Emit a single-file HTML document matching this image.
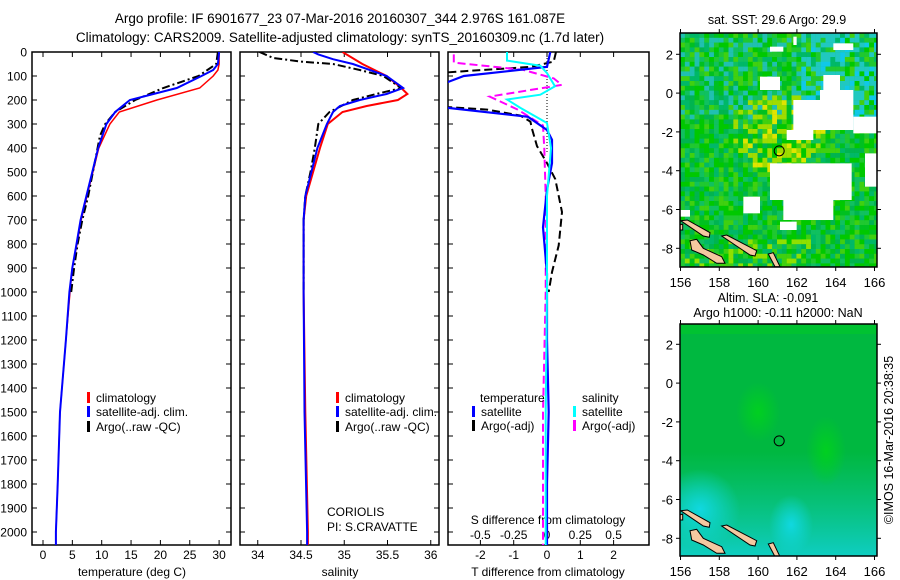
<!DOCTYPE html>
<html><head><meta charset="utf-8"><style>
body{margin:0;background:#fff;}
svg{display:block;font-family:"Liberation Sans",sans-serif;}
text{fill:#000;}
</style></head><body>
<svg id="fig" width="900" height="580" viewBox="0 0 900 580">
<defs>
<clipPath id="c1"><rect x="32" y="52" width="199" height="493"/></clipPath>
<clipPath id="c2"><rect x="240" y="52" width="199" height="493"/></clipPath>
<clipPath id="c3"><rect x="448" y="52" width="201" height="493"/></clipPath>
<clipPath id="cm1"><rect x="680" y="33" width="197" height="234"/></clipPath>
<clipPath id="cm2"><rect x="680" y="324" width="197" height="232"/></clipPath>
<radialGradient id="blob1" cx="0.5" cy="0.5" r="0.5"><stop offset="0" stop-color="#10d8e0"/><stop offset="1" stop-color="#10d8e0" stop-opacity="0"/></radialGradient>
<radialGradient id="blob2" cx="0.5" cy="0.5" r="0.5"><stop offset="0" stop-color="#00d020"/><stop offset="1" stop-color="#00d020" stop-opacity="0"/></radialGradient>
<linearGradient id="sw" x1="0" y1="0" x2="0" y2="1"><stop offset="0.55" stop-color="#10c8b0" stop-opacity="0"/><stop offset="1" stop-color="#10d0d0" stop-opacity="0.9"/></linearGradient>
</defs>
<text x="340" y="23" text-anchor="middle" font-size="13.5">Argo profile: IF 6901677_23 07-Mar-2016 20160307_344 2.976S 161.087E</text>
<text x="340" y="42" text-anchor="middle" font-size="13.5">Climatology: CARS2009. Satellite-adjusted climatology: synTS_20160309.nc (1.7d later)</text>
<g id="axes"></g>
<g id="maps"></g>
<text transform="translate(893,440) rotate(-90)" text-anchor="middle" font-size="12.5">©IMOS 16-Mar-2016 20:38:35</text>
</svg>
<script>
// ---- data (depth in m) ----
const tClimDepth=[0,50,75,100,150,200,250,300,400,500,600,700,800,900,1000,1200,1500,1800,2000,2060];
const tClimVal=[30,30,29.8,29,26.7,19.4,13,11.4,9.5,8.5,7.5,6.5,5.8,5.0,4.6,3.9,2.9,2.5,2.2,2.2];
const tSatDepth=[0,50,75,100,150,200,250,300,400,500,600,700,800,900,1000,1200,1500,1800,2000,2060];
const tSatVal=[30,29.8,29,27,22.8,14.8,12.3,10.8,9.4,8.4,7.4,6.4,5.7,5.0,4.5,3.9,2.9,2.5,2.2,2.2];
const tArgoDepth=[0,50,75,100,150,200,250,300,350,400,500,600,700,800,900,1000];
const tArgoVal=[29.8,29.5,28,26.5,20.5,15.7,12.3,10.6,9.7,9.3,8.5,7.7,6.7,5.9,5.3,4.8];
const sClimDepth=[0,50,100,150,175,200,225,250,300,400,500,600,700,1000,1500,2000,2060];
const sClimVal=[34.98,35.21,35.49,35.66,35.73,35.62,35.26,34.98,34.81,34.72,34.64,34.56,34.53,34.53,34.55,34.58,34.58];
const sSatDepth=[0,10,30,50,100,150,175,200,225,250,300,400,500,600,700,1000,1500,2000,2060];
const sSatVal=[34.64,34.7,34.87,35.1,35.49,35.68,35.49,35.18,34.95,34.87,34.8,34.69,34.62,34.55,34.53,34.53,34.54,34.57,34.57];
const sArgoDepth=[0,25,40,50,75,100,150,175,200,250,300,400,500,600,700,1000];
const sArgoVal=[34.02,34.18,34.5,34.87,35.18,35.45,35.66,35.37,35.1,34.83,34.7,34.66,34.61,34.55,34.53,34.53];
const dTSatDepth=[0,62,100,137,229,270,325,366,463,574,730,924,1200,1500,1800,2060];
const dTSatVal=[0.1,0,-2.5,-3.2,-3.2,-0.57,0,0.15,0.15,0,-0.12,0,0,0.05,0,0];
const dTArgoDepth=[0,40,62,80,90,150,225,240,265,290,320,392,463,530,667,806,917,1000];
const dTArgoVal=[0.27,0.2,-0.5,-2.5,-3.5,-3.5,-3.5,-1.8,-0.8,-0.5,-0.45,-0.3,0,0.25,0.45,0.35,0.15,0.05];
const dSSatDepth=[0,36,57,88,143,178,198,233,296,400,600,1000,1500,2060];
const dSSatVal=[-0.3,-0.3,-0.05,0,0.06,-0.05,-0.3,-0.2,0,0.03,0,0,-0.01,-0.01];
const dSArgoDepth=[10,30,44,74,110,137,186,240,306,403,600,1000,1500,2060];
const dSArgoVal=[-0.7,-0.7,-0.7,-0.18,0.05,0.11,-0.43,-0.22,-0.03,-0.02,-0.01,-0.01,-0.03,-0.03];
const depthTicks=[0,100,200,300,400,500,600,700,800,900,1000,1100,1200,1300,1400,1500,1600,1700,1800,1900,2000];
const tempTicks=[0,5,10,15,20,25,30];
const salTicks=[34,34.5,35,35.5,36];
const dTTicks=[-2,-1,0,1,2];
const dSTicks=[-0.5,-0.25,0,0.25,0.5];
const lonTicks=[156,158,160,162,164,166];
const latTicks=[2,0,-2,-4,-6,-8];

const NS='http://www.w3.org/2000/svg';
const yD=d=>52+d*0.24;
const xT=t=>43+t*5.87;
const xS=s=>301+(s-34.5)*86.5;
const xDT=t=>547+t*33.3;
const xDS=s=>547+s*133.2;
function mk(tag,attrs,parent){const e=document.createElementNS(NS,tag);for(const k in attrs)e.setAttribute(k,attrs[k]);parent.appendChild(e);return e;}
const ax=document.getElementById('axes');
function line(depths,vals,fx,color,w,dash,clip,name){
  const pts=depths.map((d,i)=>fx(vals[i]).toFixed(1)+','+yD(d).toFixed(1)).join(' ');
  const p=mk('polyline',{points:pts,fill:'none',stroke:color,'stroke-width':w,'clip-path':'url(#'+clip+')'},ax);
  if(dash)p.setAttribute('stroke-dasharray',dash);
  
  
}
function txt(x,y,s,anchor,size,name,parent){const t=mk('text',{x:x,y:y,'text-anchor':anchor||'start','font-size':size||12},parent||ax);t.textContent=s;return t;}
function frame(x,y,w,h,name){const r=mk('rect',{x:x,y:y,width:w,height:h,fill:'none',stroke:'#000','stroke-width':1.5},ax);}
[[32,'temperature-panel'],[240,'salinity-panel'],[448,'difference-panel']].forEach(([x,n],i)=>{
  const w=i==2?201:199;
  frame(x,52,w,493,n);
  depthTicks.forEach(d=>{mk('line',{x1:x,x2:x+5,y1:yD(d),y2:yD(d),stroke:'#000'},ax);mk('line',{x1:x+w-5,x2:x+w,y1:yD(d),y2:yD(d),stroke:'#000'},ax);});
});
depthTicks.forEach(d=>txt(27,yD(d)+4.5,String(d),'end',12,'depth-tick-label'));
tempTicks.forEach(t=>{mk('line',{x1:xT(t),x2:xT(t),y1:545,y2:540,stroke:'#000'},ax);mk('line',{x1:xT(t),x2:xT(t),y1:52,y2:57,stroke:'#000'},ax);txt(xT(t),559,String(t),'middle',12,'temperature-tick-label');});
salTicks.forEach(s=>{mk('line',{x1:xS(s),x2:xS(s),y1:545,y2:540,stroke:'#000'},ax);mk('line',{x1:xS(s),x2:xS(s),y1:52,y2:57,stroke:'#000'},ax);txt(xS(s),559,String(s),'middle',12,'salinity-tick-label');});
dTTicks.forEach(t=>{mk('line',{x1:xDT(t),x2:xDT(t),y1:545,y2:540,stroke:'#000'},ax);mk('line',{x1:xDT(t),x2:xDT(t),y1:52,y2:57,stroke:'#000'},ax);txt(xDT(t),559,String(t),'middle',12,'t-diff-tick-label');});
dSTicks.forEach(s=>txt(xDS(s),539,String(s),'middle',12,'s-diff-tick-label'));
txt(132,576,'temperature (deg C)','middle',12,'temperature-axis-title');
txt(340,576,'salinity','middle',12,'salinity-axis-title');
txt(548,576,'T difference from climatology','middle',12,'t-diff-axis-title');
txt(548,524,'S difference from climatology','middle',12,'s-diff-axis-title');
mk('line',{x1:547,x2:547,y1:52,y2:yD(420),stroke:'#000','stroke-dasharray':'1,2'},ax);
line(tClimDepth,tClimVal,xT,'#f00',1.5,null,'c1','temp-climatology-line');
line(tArgoDepth,tArgoVal,xT,'#000',2,'8,3,2,3','c1','temp-argo-line');
line(tSatDepth,tSatVal,xT,'#00f',2,null,'c1','temp-satellite-line');
line(sClimDepth,sClimVal,xS,'#f00',2,null,'c2','sal-climatology-line');
line(sArgoDepth,sArgoVal,xS,'#000',2,'8,3,2,3','c2','sal-argo-line');
line(sSatDepth,sSatVal,xS,'#00f',2,null,'c2','sal-satellite-line');
line(dTArgoDepth,dTArgoVal,xDT,'#000',2,'8,4','c3','t-diff-argo-line');
line(dSArgoDepth,dSArgoVal,xDS,'#f0f',2,'8,4','c3','s-diff-argo-line');
line(dTSatDepth,dTSatVal,xDT,'#00f',2.2,null,'c3','t-diff-satellite-line');
line(dSSatDepth,dSSatVal,xDS,'#0ff',2,null,'c3','s-diff-satellite-line');
function leg(x,y,color,label,name){mk('rect',{x:x,y:y-10,width:3,height:11,fill:color},ax);txt(x+9,y,label,'start',12,name);}
leg(87,402,'#f00','climatology','legend-climatology');
leg(87,416,'#00f','satellite-adj. clim.','legend-satellite-adj');
leg(87,431,'#000','Argo(..raw -QC)','legend-argo');
leg(336,402,'#f00','climatology','legend-sal-climatology');
leg(336,416,'#00f','satellite-adj. clim.','legend-sal-satellite-adj');
leg(336,431,'#000','Argo(..raw -QC)','legend-sal-argo');
txt(480,402,'temperature','start',12,'legend-temperature-heading');
leg(472,416,'#00f','satellite','legend-t-satellite');
leg(472,430,'#000','Argo(-adj)','legend-t-argo');
txt(582,402,'salinity','start',12,'legend-salinity-heading');
leg(573,416,'#0ff','satellite','legend-s-satellite');
leg(573,430,'#f0f','Argo(-adj)','legend-s-argo');
txt(327,516,'CORIOLIS','start',12,'data-center-label');
txt(327,531,'PI: S.CRAVATTE','start',12,'pi-label');

// ---- maps ----
const mg=document.getElementById('maps');
const lonX=l=>680.5+(l-156)*19.4;
const latY1=a=>54.3+(2-a)*19.4;
const latY2=a=>344.3+(2-a)*19.4;
const g1=mk('g',{'clip-path':'url(#cm1)'},mg);

const pal=['#00c800','#00b450','#00c020','#10c060','#40d010','#00b868','#20c830','#00c800'];
function h(i,j){let v=(i*73856093)^(j*19349663);v=(v^(v>>13))*1274126177;return ((v>>>0)%1000)/1000;}
mk('rect',{x:680,y:33,width:197,height:234,fill:'#00c000'},g1);
for(let i=0;i<41;i++)for(let j=0;j<49;j++){
  const x=680+i*4.85,y=33+j*4.8;const r=h(i,j);
  let c=pal[Math.floor(r*pal.length)];
  const cx=(i-20)/9,cy=(j-20)/8;
  if(j<20&&i>24&&r<0.5)c=(r<0.15?'#10c8e8':'#20c8c0');
  else if(j<18&&r<0.2)c='#20c0b0';
  if(cx*cx+cy*cy<1.1&&r>0.6)c=(r>0.88?'#e0e400':'#a0dc00');
  if(j>42&&i<28&&r>0.8)c='#90e000';
  mk('rect',{x:x,y:y,width:5,height:5,fill:c},g1);
}
const holes=[[400,300,580,390],[580,350,652,400],[480,270,580,300],[490,225,540,280],[300,230,360,270],[330,490,575,600],[370,600,520,660],[250,590,300,640],[360,665,410,690],[520,130,580,150],[330,140,370,155],[400,110,410,135],[60,630,90,650],[615,460,652,560],[380,390,460,420]];
holes.forEach(b=>mk('rect',{x:660+b[0]/3,y:b[1]/3,width:(b[2]-b[0])/3,height:(b[3]-b[1])/3,fill:'#fff'},g1));
function land(g,dy){
  const isl=[[[62,662],[82,660],[150,698],[148,712],[130,708]],[[185,708],[200,705],[290,752],[285,768],[270,765]],[[90,722],[110,718],[130,745],[185,770],[195,790],[170,790],[130,765],[95,750]],[[325,762],[340,758],[360,800],[345,800]],[[58,675],[68,672],[68,690],[58,690]]];
  isl.forEach(p=>mk('polygon',{points:p.map(q=>(660+q[0]/3).toFixed(1)+','+(dy+q[1]/3).toFixed(1)).join(' '),fill:'#f5c8a0',stroke:'#000','stroke-width':1},g));
}
land(g1,0);
mk('circle',{cx:lonX(161.087),cy:latY1(-2.976),r:5,fill:'none',stroke:'#000','stroke-width':1},mg);
const g2=mk('g',{'clip-path':'url(#cm2)'},mg);

mk('rect',{x:680,y:324,width:197,height:232,fill:'#00b840'},g2);
mk('rect',{x:680,y:324,width:197,height:232,fill:'url(#sw)'},g2);
mk('ellipse',{cx:lonX(161.7),cy:latY2(-7.3),rx:22,ry:30,fill:'url(#blob1)'},g2);
mk('ellipse',{cx:lonX(157),cy:latY2(-6.5),rx:40,ry:40,fill:'url(#blob1)'},g2);
mk('ellipse',{cx:lonX(160),cy:latY2(-1.5),rx:22,ry:30,fill:'url(#blob2)'},g2);
mk('ellipse',{cx:lonX(163.5),cy:latY2(-3.5),rx:20,ry:35,fill:'url(#blob2)'},g2);
mk('rect',{x:680,y:324,width:197,height:10,fill:'#00c828',opacity:0.6},g2);
land(g2,290);
mk('circle',{cx:lonX(161.087),cy:latY2(-2.976),r:5,fill:'none',stroke:'#000','stroke-width':1},mg);
[[33,267,latY1,'sst-map-frame'],[324,556,latY2,'sla-map-frame']].forEach(([t,b,fy,n])=>{
  const r=mk('rect',{x:680,y:t,width:197,height:b-t,fill:'none',stroke:'#000','stroke-width':1.5},mg);
  
  lonTicks.forEach(l=>{mk('line',{x1:lonX(l),x2:lonX(l),y1:t,y2:t-4,stroke:'#000'},mg);mk('line',{x1:lonX(l),x2:lonX(l),y1:b,y2:b+4,stroke:'#000'},mg);txt(lonX(l),b+20,String(l),'middle',13,'lon-tick-label',mg);});
  latTicks.forEach(a=>{mk('line',{x1:680,x2:676,y1:fy(a),y2:fy(a),stroke:'#000'},mg);mk('line',{x1:877,x2:881,y1:fy(a),y2:fy(a),stroke:'#000'},mg);txt(673,fy(a)+5,String(a),'end',13,'lat-tick-label',mg);});
});
txt(777,24,'sat. SST: 29.6 Argo: 29.9','middle',12.5,'sst-map-title',mg);
txt(768,302,'Altim. SLA: -0.091','middle',12.5,'sla-map-title',mg);
txt(778,317,'Argo h1000: -0.11 h2000: NaN','middle',12.5,'sla-map-subtitle',mg);
</script>
</body></html>
